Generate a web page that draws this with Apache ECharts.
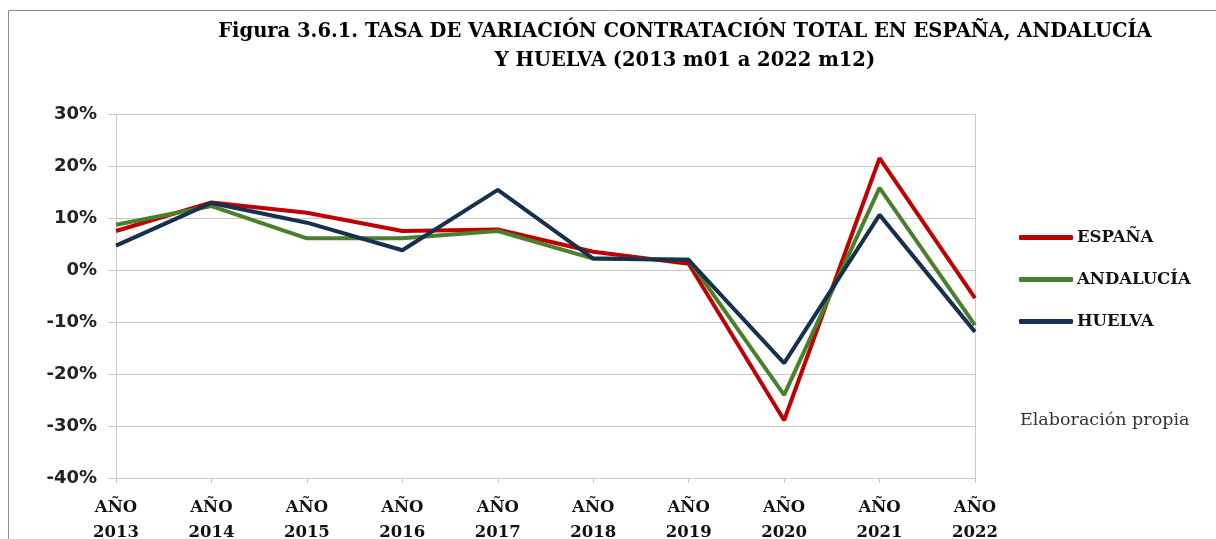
<!DOCTYPE html>
<html>
<head>
<meta charset="utf-8">
<script src="https://cdn.jsdelivr.net/npm/echarts@6/dist/echarts.min.js"></script>
<style>
  html, body { margin: 0; padding: 0; background: #fff; }
  #main { width: 1216px; height: 539px; }
</style>
</head>
<body>
<div id="main"></div>
<script>
var years = ['AÑO\n2013', 'AÑO\n2014', 'AÑO\n2015', 'AÑO\n2016', 'AÑO\n2017', 'AÑO\n2018', 'AÑO\n2019', 'AÑO\n2020', 'AÑO\n2021', 'AÑO\n2022']
var espana = [7.5, 13.0, 11.0, 7.5, 7.8, 3.5, 1.2, -28.9, 21.5, -5.4]
var andalucia = [8.7, 12.3, 6.1, 6.1, 7.5, 2.2, 2.0, -24.0, 15.8, -10.6]
var huelva = [4.7, 12.9, 9.1, 3.8, 15.4, 2.2, 1.9, -17.9, 10.6, -11.9]

var chartDom = document.getElementById('main')
var myChart = echarts.init(chartDom)
var option

var serif = 'DejaVu Serif'

option = {
  animation: false,
  backgroundColor: '#fff',
  title: {
    text: 'Figura 3.6.1. TASA DE VARIACIÓN CONTRATACIÓN TOTAL EN ESPAÑA, ANDALUCÍA\nY HUELVA (2013 m01 a 2022 m12)',
    left: 680,
    top: 12,
    textAlign: 'center',
    textStyle: {
      fontFamily: serif,
      fontWeight: 'bold',
      fontSize: 19.5,
      lineHeight: 29,
      color: '#000'
    }
  },
  graphic: [
    {
      type: 'rect',
      shape: { x: 8.5, y: 10.5, width: 1300, height: 600 },
      style: { fill: 'none', stroke: '#8c8c8c', lineWidth: 1 },
      silent: true
    },
    {
      type: 'text',
      left: 1020,
      top: 411,
      style: {
        text: 'Elaboración propia',
        font: '17.5px "DejaVu Serif"',
        fill: '#333'
      }
    },
    {
      // right border of the plot area
      type: 'line',
      shape: { x1: 975.5, y1: 114, x2: 975.5, y2: 478 },
      style: { stroke: '#c8c8c8', lineWidth: 1 },
      silent: true
    }
  ],
  legend: {
    orient: 'vertical',
    left: 1019,
    top: 229,
    padding: 0,
    itemWidth: 54,
    itemHeight: 5,
    itemGap: 25,
    icon: 'roundRect',
    textStyle: {
      fontFamily: serif,
      fontWeight: 'bold',
      fontSize: 16.5,
      color: '#111',
      padding: [0, 0, 0, -1]
    },
    data: ['ESPAÑA', 'ANDALUCÍA', 'HUELVA']
  },
  grid: {
    left: 116,
    right: 241,
    top: 114,
    bottom: 61,
    containLabel: false,
    outerBoundsMode: 'none'
  },
  xAxis: [
    {
      type: 'category',
      boundaryGap: false,
      data: years,
      axisLine: { show: false },
      axisTick: { show: false },
      axisLabel: {
        margin: 17,
        fontFamily: serif,
        fontWeight: 'bold',
        fontSize: 16.5,
        lineHeight: 25,
        color: '#111'
      }
    },
    {
      type: 'category',
      position: 'bottom',
      boundaryGap: false,
      data: years,
      axisLine: { show: true, onZero: true, lineStyle: { color: '#c8c8c8', width: 1 } },
      axisTick: { show: true, inside: false, length: 5, lineStyle: { color: '#c8c8c8' } },
      axisLabel: { show: false }
    }
  ],
  yAxis: {
    type: 'value',
    min: -40,
    max: 30,
    interval: 10,
    axisLine: { show: true, lineStyle: { color: '#c8c8c8', width: 1 } },
    axisTick: { show: true, length: 8, lineStyle: { color: '#c8c8c8' } },
    splitLine: { show: true, lineStyle: { color: '#c8c8c8', width: 1 } },
    axisLabel: {
      margin: 19,
      fontFamily: 'DejaVu Sans',
      fontWeight: 'bold',
      fontSize: 18,
      color: '#222',
      formatter: '{value}%'
    }
  },
  series: [
    {
      name: 'ESPAÑA',
      type: 'line',
      symbol: 'none',
      color: '#c00000',
      lineStyle: { color: '#c00000', width: 4 },
      z: 3,
      data: espana
    },
    {
      name: 'ANDALUCÍA',
      type: 'line',
      symbol: 'none',
      color: '#4a7f2c',
      lineStyle: { color: '#4a7f2c', width: 4 },
      z: 4,
      data: andalucia
    },
    {
      name: 'HUELVA',
      type: 'line',
      symbol: 'none',
      color: '#17304f',
      lineStyle: { color: '#17304f', width: 4 },
      z: 5,
      data: huelva
    }
  ]
}

option && myChart.setOption(option)
</script>
</body>
</html>
